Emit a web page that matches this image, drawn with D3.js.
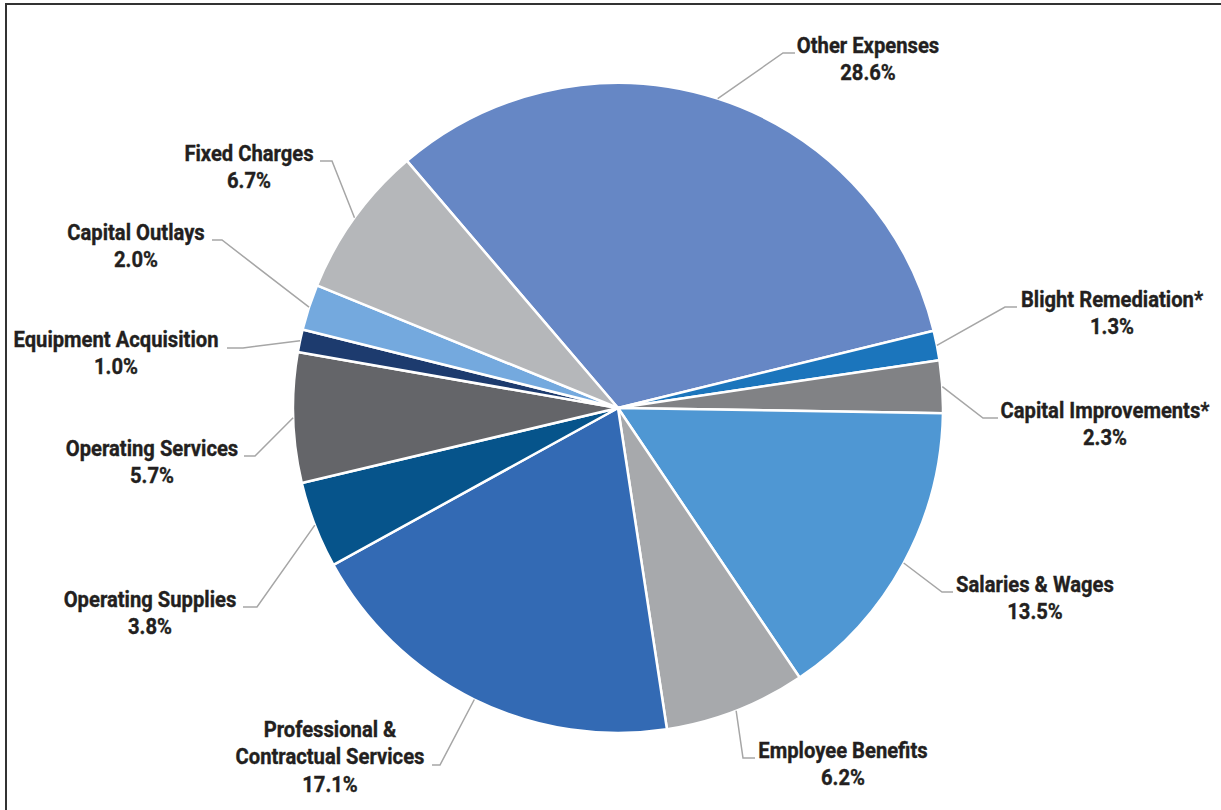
<!DOCTYPE html>
<html>
<head>
<meta charset="utf-8">
<script src="https://cdn.jsdelivr.net/npm/d3@7"></script>
<style>
  html, body { margin: 0; padding: 0; background: #fff; }
  svg { display: block; }
  .lbl { font-family: Roboto, "Noto Sans", sans-serif; font-weight: 700; font-size: 21.5px; fill: #231f20; stroke: #231f20; stroke-width: 0.35px; }
</style>
</head>
<body>
<svg id="chart" width="1221" height="810"></svg>
<script>
// ---- data ----
const categories = ["Other Expenses", "Blight Remediation*", "Capital Improvements*", "Salaries & Wages",
  "Employee Benefits", "Professional & Contractual Services", "Operating Supplies", "Operating Services",
  "Equipment Acquisition", "Capital Outlays", "Fixed Charges"];
const values = [28.6, 1.3, 2.3, 13.5, 6.2, 17.1, 3.8, 5.7, 1.0, 2.0, 6.7];
const labelLines = [["Other Expenses"], ["Blight Remediation*"], ["Capital Improvements*"], ["Salaries & Wages"],
  ["Employee Benefits"], ["Professional &", "Contractual Services"], ["Operating Supplies"], ["Operating Services"],
  ["Equipment Acquisition"], ["Capital Outlays"], ["Fixed Charges"]];
const colors = ["#6687c5", "#1b75bc", "#818285", "#4f97d3", "#a7a9ac", "#336ab4", "#06548b", "#646569",
  "#1d3b6e", "#74a9de", "#b5b7ba"];

// ---- label layout: text centre x, first baseline y, elbow x/y, leader end x ----
const labelLayout = [
  { tx: 868, ty: 53, ex: 783, ey: 53, hx: 795 },
  { tx: 1112, ty: 307, ex: 1005, ey: 307, hx: 1017 },
  { tx: 1105, ty: 418, ex: 983, ey: 418, hx: 998 },
  { tx: 1035, ty: 592, ex: 942, ey: 592, hx: 953 },
  { tx: 843, ty: 758, ex: 743, ey: 758, hx: 755 },
  { tx: 330, ty: 737, ex: 440, ey: 765, hx: 432 },
  { tx: 150, ty: 607, ex: 257, ey: 607, hx: 243 },
  { tx: 152, ty: 456, ex: 255, ey: 456, hx: 244 },
  { tx: 116, ty: 347, ex: 243, ey: 348, hx: 227 },
  { tx: 136, ty: 240, ex: 222, ey: 240, hx: 212 },
  { tx: 249, ty: 161, ex: 332, ey: 161, hx: 320 }
];

const W = 1221, H = 810;
const cx = 618, cy = 408, R = 325;
const startDeg = -40.5;
const lineH = 27.5;
const sx = 0.94;

const svg = d3.select("#chart");

// frame
svg.append("rect").attr("x", 6).attr("y", 4).attr("width", W + 20).attr("height", H + 20)
  .attr("fill", "none").attr("stroke", "#333").attr("stroke-width", 2);

const data = categories.map((c, i) => ({ name: c, value: values[i], color: colors[i], lines: labelLines[i], lay: labelLayout[i] }));

const a0 = startDeg * Math.PI / 180;
const pie = d3.pie().sort(null).value(d => d.value).startAngle(a0).endAngle(a0 + 2 * Math.PI);
const arcs = pie(data);
const arc = d3.arc().innerRadius(0).outerRadius(R);

const g = svg.append("g").attr("transform", `translate(${cx},${cy})`);
g.selectAll("path.slice").data(arcs).join("path")
  .attr("class", "slice")
  .attr("d", arc)
  .attr("fill", d => d.data.color)
  .attr("stroke", "#fff")
  .attr("stroke-width", 2.5)
  .attr("stroke-linejoin", "round");

// leader lines
const fmt = d3.format(".1f");
svg.selectAll("polyline.leader").data(arcs).join("polyline")
  .attr("class", "leader")
  .attr("points", d => {
    const m = (d.startAngle + d.endAngle) / 2;
    const px = cx + R * Math.sin(m), py = cy - R * Math.cos(m);
    const L = d.data.lay;
    return [[px, py], [L.ex, L.ey], [L.hx, L.ey]].map(p => p.join(",")).join(" ");
  })
  .attr("fill", "none")
  .attr("stroke", "#a6a6a6")
  .attr("stroke-width", 1.5);

// labels
const lg = svg.selectAll("g.lblg").data(arcs).join("g")
  .attr("class", "lblg")
  .attr("transform", d => `translate(${d.data.lay.tx},${d.data.lay.ty}) scale(${sx},1)`);
lg.each(function (d) {
  const t = d3.select(this).append("text").attr("class", "lbl").attr("text-anchor", "middle");
  const lines = d.data.lines.concat([fmt(d.data.value) + "%"]);
  lines.forEach((s, i) => {
    t.append("tspan").attr("x", 0).attr("y", i * lineH).text(s);
  });
});
</script>
</body>
</html>
